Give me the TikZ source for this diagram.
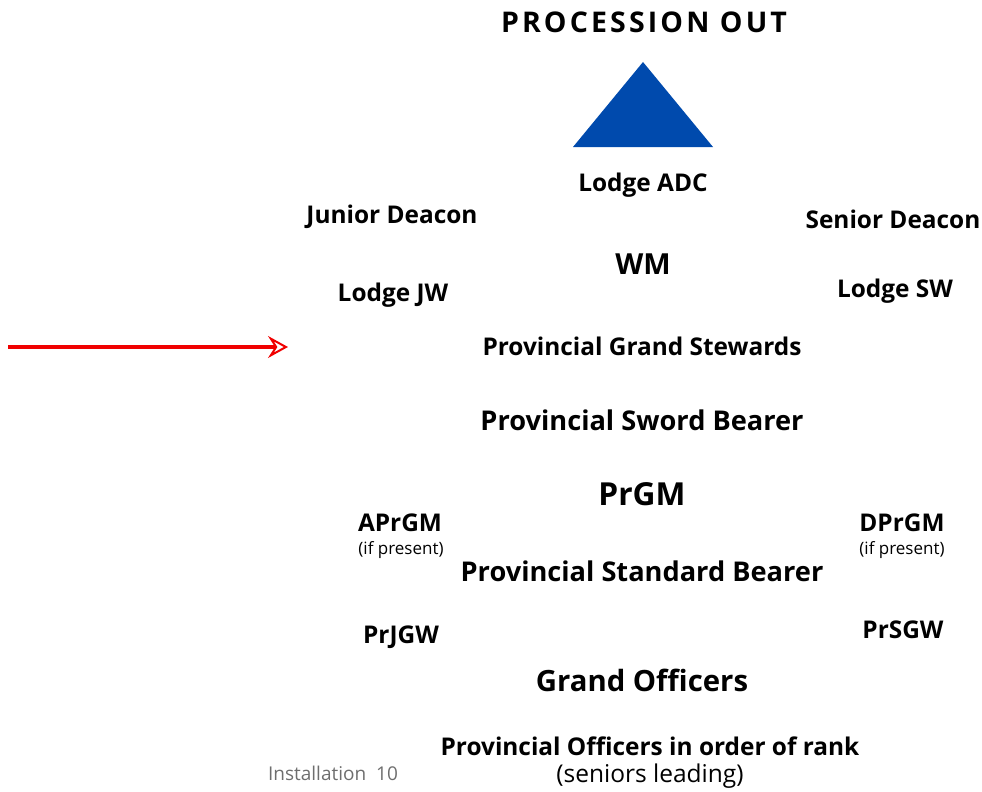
\documentclass[tikz,border=0pt]{standalone}
\usepackage{fontspec}
\setmainfont{Open Sans}
\usepackage{xcolor}
\usepackage{tikz}
\usetikzlibrary{arrows.meta}

\definecolor{procblue}{RGB}{0,74,173}
\definecolor{arrowred}{RGB}{240,0,0}
\definecolor{footgray}{RGB}{110,110,110}

\begin{document}
\begin{tikzpicture}[x=1pt,y=-1pt,
    officer/.style={inner sep=0pt,font=\fontsize{24.4}{28}\selectfont\bfseries},
    bigofficer/.style={inner sep=0pt,font=\fontsize{27.2}{31}\selectfont\bfseries},
    ifpresent/.style={inner sep=0pt,font=\fontsize{17}{20}\selectfont},
    pointer/.style={arrowred,line width=4pt,-{Stealth[open,fill=white,length=20pt,width=22pt,inset=7pt,line width=2pt]}}]
                \useasboundingbox (0,0) rectangle (982,792);
                % title and direction
                \node [inner sep=0pt,font=\fontsize{28.5}{32}\selectfont\bfseries\addfontfeatures{LetterSpace=11}] (title) at (644,22) {PROCESSION OUT};
                \fill [procblue] (643,62) -- (713,147) -- (573,147) -- cycle;
                % lodge officers
                \node [officer] (adc) at (643,185) {Lodge ADC};
                \node [officer] (jd) at (392,217) {Junior Deacon};
                \node [officer] (sd) at (893,219) {Senior Deacon};
                \node [officer,font=\fontsize{29}{33}\selectfont\bfseries] (wm) at (643,264) {WM};
                \node [officer] (jw) at (393,295) {Lodge JW};
                \node [officer] (sw) at (895,291) {Lodge SW};
                % provincial officers
                \node [officer] (stewards) at (642,346) {Provincial Grand Stewards};
                \node [bigofficer] (sword) at (642,420) {Provincial Sword Bearer};
                \node [officer,font=\fontsize{31.7}{36}\selectfont\bfseries] (prgm) at (642,494) {PrGM};
                \node [officer] (aprgm) at (400,523) {APrGM};
                \node [ifpresent] (aprgmif) at (401,550) {(if present)};
                \node [officer] (dprgm) at (902,523) {DPrGM};
                \node [ifpresent] (dprgmif) at (902,550) {(if present)};
                \node [bigofficer] (standard) at (642,571) {Provincial Standard Bearer};
                \node [officer] (prjgw) at (401,637) {PrJGW};
                \node [officer] (prsgw) at (903,630) {PrSGW};
                \node [officer,font=\fontsize{29.3}{33}\selectfont\bfseries] (grand) at (642,680) {Grand Officers};
                \node [officer] (rank) at (650,746) {Provincial Officers in order of rank};
                \node [inner sep=0pt,font=\fontsize{24.5}{28}\selectfont] (seniors) at (650,776) {(seniors leading)};
                \node [inner sep=0pt,font=\fontsize{19}{22}\selectfont,text=footgray] (footer) at (333,773) {Installation~~10};
                % pointer
                \coordinate (tail) at (8,347);
                \coordinate (tip) at (288,347);
                \draw [pointer] (tail) -- (tip);
            \end{tikzpicture}
\end{document}
